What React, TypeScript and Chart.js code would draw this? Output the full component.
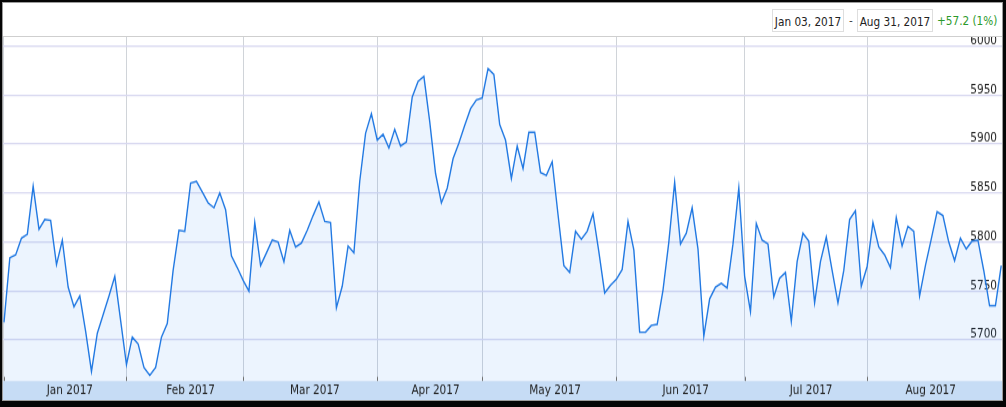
import { useEffect, useRef } from 'react';
import { Chart, registerables } from 'chart.js';

Chart.register(...registerables);

// daily closes, Jan 03 2017 .. Aug 31 2017 (one value per trading day)
const closes = [
  5718, 5784, 5787, 5804, 5808, 5857, 5813, 5823, 5822, 5777,
  5802, 5754, 5734, 5745, 5709, 5668, 5707, 5726, 5745, 5765,
  5720, 5675, 5703, 5696, 5672, 5664, 5672, 5703, 5717, 5771,
  5812, 5811, 5860, 5862, 5851, 5840, 5835, 5850, 5833, 5786,
  5774, 5761, 5750, 5820, 5776, 5789, 5802, 5800, 5780, 5812,
  5795, 5799, 5812, 5827, 5841, 5821, 5820, 5733, 5755, 5796,
  5789, 5862, 5911, 5931, 5904, 5910, 5896, 5915, 5898, 5902,
  5948, 5964, 5969, 5923, 5870, 5840, 5855, 5885, 5901, 5919,
  5936, 5945, 5947, 5977, 5971, 5920, 5904, 5865, 5898, 5875,
  5912, 5912, 5871, 5868, 5882, 5828, 5776, 5769, 5811, 5803,
  5811, 5829, 5790, 5748, 5756, 5762, 5772, 5821, 5792, 5708,
  5708, 5715, 5716, 5751, 5800, 5861, 5798, 5809, 5835, 5793,
  5704, 5742, 5754, 5758, 5753, 5798, 5855, 5765, 5729, 5819,
  5802, 5798, 5744, 5763, 5769, 5719, 5780, 5809, 5801, 5738,
  5780, 5805, 5771, 5738, 5771, 5823, 5832, 5755, 5775, 5820,
  5795, 5787, 5774, 5825, 5796, 5816, 5811, 5745, 5776, 5803,
  5831, 5827, 5800, 5781, 5804, 5793, 5801, 5802, 5771, 5735,
  5735, 5776,
];

const monthLabels = ['Jan 2017', 'Feb 2017', 'Mar 2017', 'Apr 2017', 'May 2017', 'Jun 2017', 'Jul 2017', 'Aug 2017'];
// index of first trading day of each month
const monthStarts = [0, 21, 41, 64, 82, 105, 127, 148];
// where each month name sits on the index axis
const monthLabelAt = [11.3, 32.0, 53.3, 74.0, 94.5, 116.9, 138.4, 158.9];
const yTicks = [5700, 5750, 5800, 5850, 5900, 5950, 6000];

const fromDate = 'Jan 03, 2017';
const toDate = 'Aug 31, 2017';
const change = '+57.2 (1%)';

const FONT = 'DejaVu Sans';
const CANVAS_W = 999;
const CANVAS_H = 302;
const SHOWN_H = 363;
const STRETCH = SHOWN_H / CANVAS_H;
const BAND_H = CANVAS_H - 344 / STRETCH;

const bandPlugin = {
  id: 'band',
  beforeDraw(chart: any) {
    const { ctx, chartArea, width, height } = chart;
    ctx.save();
    ctx.fillStyle = '#c6dcf5';
    ctx.fillRect(0, chartArea.bottom, width, height - chartArea.bottom);
    ctx.restore();
  },
  afterDraw(chart: any) {
    const { ctx, chartArea } = chart;
    const xs = chart.scales.x;
    ctx.save();
    ctx.strokeStyle = '#707070';
    ctx.lineWidth = 1;
    monthStarts.forEach((v) => {
      const px = Math.round(xs.getPixelForValue(v)) + 0.5;
      ctx.beginPath();
      ctx.moveTo(px, chartArea.bottom - 3.5);
      ctx.lineTo(px, chartArea.bottom);
      ctx.stroke();
    });
    ctx.restore();
  },
};

const noPad = (s: any) => {
  s.paddingTop = 0;
  s.paddingBottom = 0;
  s.paddingLeft = 0;
  s.paddingRight = 0;
};

function PriceChart() {
  const canvasRef = useRef<HTMLCanvasElement>(null);

  useEffect(() => {
    if (!canvasRef.current) return;
    const chart = new Chart(canvasRef.current, {
      type: 'line',
      data: {
        datasets: [
          {
            data: closes.map((y, i) => ({ x: i, y })),
            borderColor: '#2279e2',
            backgroundColor: 'rgba(30, 128, 240, 0.085)',
            borderWidth: 1.4,
            fill: 'start',
            pointRadius: 0,
            tension: 0,
          },
        ],
      },
      options: {
        animation: false,
        responsive: false,
        devicePixelRatio: 1,
        layout: { padding: 0 },
        plugins: { legend: { display: false }, tooltip: { enabled: false } },
        scales: {
          x: {
            type: 'linear',
            min: -0.171,
            max: 171.13,
            border: { display: false },
            afterBuildTicks: (s: any) => {
              s.ticks = [...monthStarts, ...monthLabelAt]
                .sort((a, b) => a - b)
                .map((v) => ({ value: v }));
            },
            afterFit: (s: any) => {
              s.height = BAND_H;
              noPad(s);
            },
            grid: {
              color: (c: any) => (monthStarts.includes(c.tick?.value) ? '#d0d4d9' : 'rgba(0,0,0,0)'),
              lineWidth: 1,
              drawTicks: false,
            },
            ticks: {
              autoSkip: false,
              maxRotation: 0,
              padding: 2,
              color: '#1e1e1e',
              font: { family: FONT, size: 10.5 },
              callback: (v: any) => {
                const k = monthLabelAt.indexOf(v);
                return k >= 0 ? monthLabels[k] : '';
              },
            },
          },
          y: {
            position: 'right',
            min: 5658.2,
            max: 6009.2,
            border: { display: false },
            afterBuildTicks: (s: any) => {
              s.ticks = yTicks.map((v) => ({ value: v }));
            },
            afterFit: (s: any) => {
              s.width = 0;
              noPad(s);
            },
            grid: { color: '#d8d8f0', lineWidth: 1.3, drawTicks: false },
            ticks: {
              mirror: true,
              padding: -5,
              labelOffset: -4.5,
              color: '#222',
              font: { family: FONT, size: 10.5 },
              callback: (v: any) => String(v),
            },
          },
        },
      },
      plugins: [bandPlugin],
    });
    return () => chart.destroy();
  }, []);

  return (
    <div style={{ height: SHOWN_H, position: 'relative', overflow: 'hidden' }}>
      <div
        style={{
          position: 'absolute',
          left: 0,
          top: 0,
          width: CANVAS_W,
          height: CANVAS_H,
          transform: `scaleY(${STRETCH})`,
          transformOrigin: '0 0',
        }}
      >
        <canvas
          ref={canvasRef}
          width={CANVAS_W}
          height={CANVAS_H}
          style={{ display: 'block', width: CANVAS_W, height: CANVAS_H }}
        ></canvas>
      </div>
    </div>
  );
}

const headText = {
  position: 'absolute' as const,
  fontFamily: FONT,
  fontSize: 10.5,
  lineHeight: '22px',
  whiteSpace: 'nowrap' as const,
};

function Header() {
  const box = {
    ...headText,
    top: 6,
    height: 23,
    boxSizing: 'border-box' as const,
    border: '1px solid #dedede',
    color: '#222',
    textAlign: 'center' as const,
  };
  const tall = { display: 'inline-block', transform: 'scaleY(1.25)' };
  return (
    <div style={{ height: 33, borderBottom: '1px solid #cfcfcf', position: 'relative' }}>
      <div style={{ ...box, left: 769, width: 72 }}>
        <span style={tall}>{fromDate}</span>
      </div>
      <div style={{ ...headText, top: 6, left: 846, color: '#333' }}>-</div>
      <div style={{ ...box, left: 854, width: 76 }}>
        <span style={tall}>{toDate}</span>
      </div>
      <div style={{ ...headText, top: 6, left: 934, color: '#2b9a2b' }}>
        <span style={tall}>{change}</span>
      </div>
    </div>
  );
}

export default function App() {
  return (
    <div
      style={{
        position: 'absolute',
        left: 0,
        top: 0,
        width: 1006,
        height: 407,
        boxSizing: 'border-box',
        borderStyle: 'solid',
        borderColor: '#050505',
        borderWidth: '2px 3px 6px 2px',
        background: '#fff',
      }}
    >
      <div
        style={{
          width: '100%',
          height: '100%',
          boxSizing: 'border-box',
          border: '1px solid #9c9c9c',
          background: '#fff',
        }}
      >
        <Header />
        <PriceChart />
      </div>
    </div>
  );
}
